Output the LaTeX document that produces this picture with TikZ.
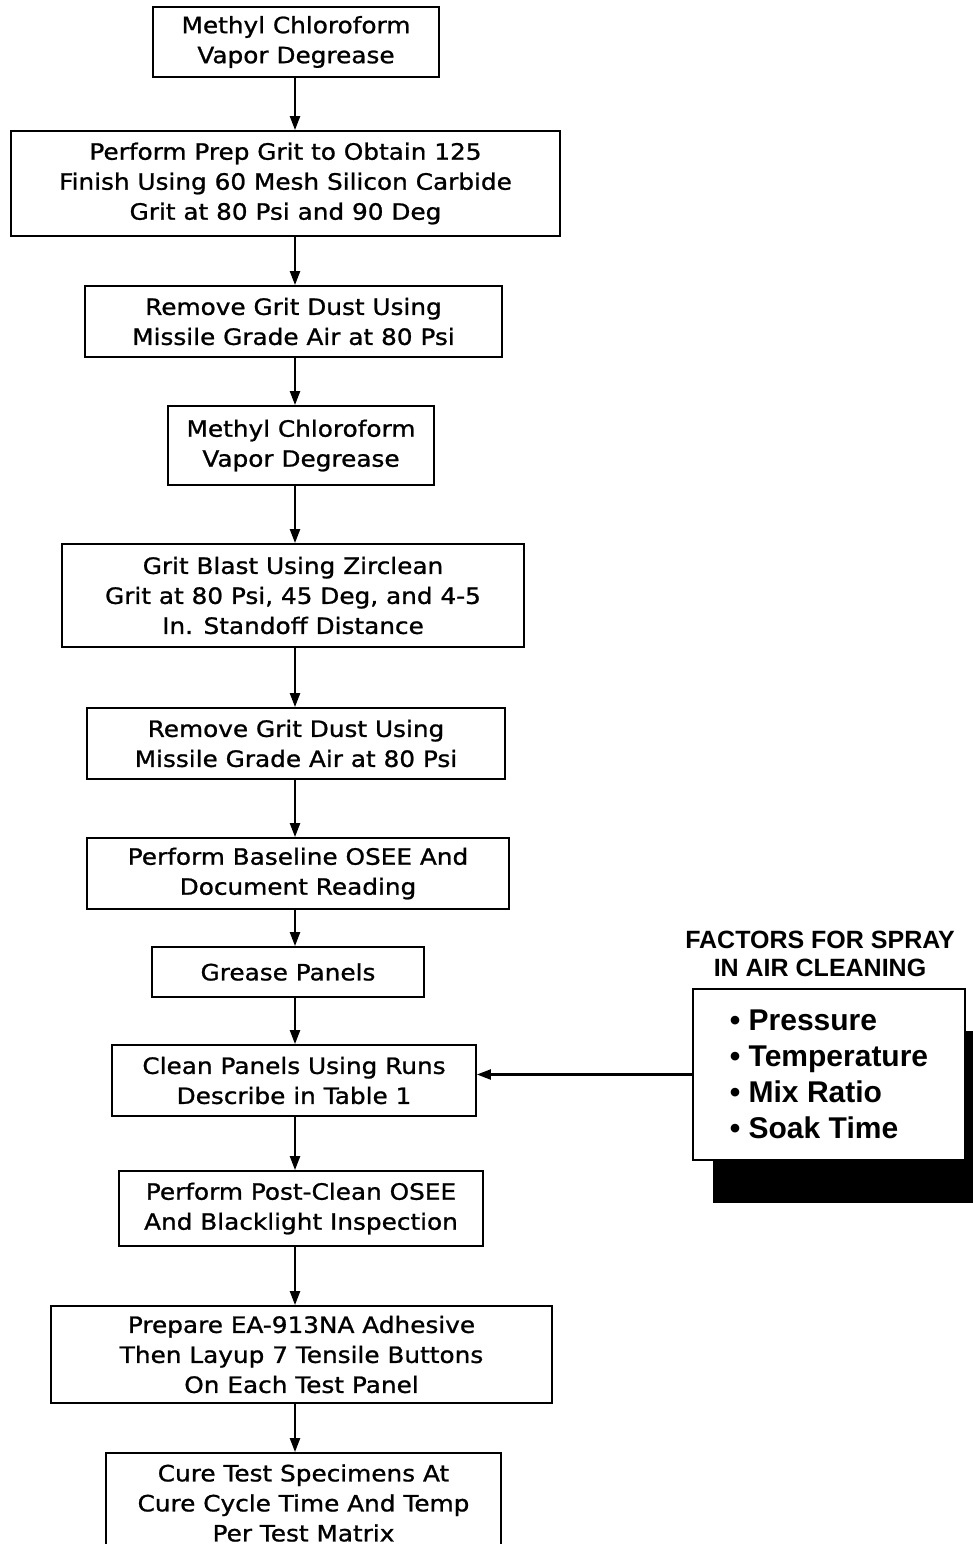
\documentclass[tikz,border=0pt]{standalone}
\usepackage{fontspec}
\setmainfont{Liberation Sans}
\newfontfamily\flowfont[FakeStretch=1.1,FakeBold=1]{DejaVu Sans}
\usetikzlibrary{arrows.meta}
\begin{document}
\begin{tikzpicture}[x=1pt,y=-1pt,
  flowbox/.style={draw=black,line width=1.8pt,rectangle,inner sep=0pt,align=center,
    font=\flowfont\fontsize{22.5}{30}\selectfont},
  flowarrow/.style={draw=black,line width=2.2pt,-{Triangle[length=14pt,width=10pt]}},
  factorbox/.style={draw=black,line width=1.8pt,fill=white,rectangle,inner sep=0pt,align=left,
    font=\fontsize{30}{36}\selectfont\bfseries},
  titletext/.style={align=center,font=\fontsize{25}{28}\selectfont\bfseries}]
\useasboundingbox (0,0) rectangle (973,1544);
\clip (0,0) rectangle (973,1544);
\coordinate (spine) at (295,0);
\node[flowbox,minimum width=286pt,minimum height=70pt] (b1) at (296,42) {Methyl Chloroform\\Vapor Degrease};
\node[flowbox,minimum width=549pt,minimum height=105pt] (b2) at (285.5,183.5) {Perform Prep Grit to Obtain 125\\Finish Using 60 Mesh Silicon Carbide\\Grit at 80 Psi and 90 Deg};
\node[flowbox,minimum width=417pt,minimum height=71pt] (b3) at (293.5,321.5) {Remove Grit Dust Using\\Missile Grade Air at 80 Psi};
\node[flowbox,minimum width=266pt,minimum height=79pt] (b4) at (301,445.5) {Methyl Chloroform\\Vapor Degrease};
\node[flowbox,minimum width=462pt,minimum height=103pt] (b5) at (293,595.5) {Grit Blast Using Zirclean\\Grit at 80 Psi, 45 Deg, and 4-5\\In. Standoff Distance};
\node[flowbox,minimum width=418pt,minimum height=71pt] (b6) at (296,743.5) {Remove Grit Dust Using\\Missile Grade Air at 80 Psi};
\node[flowbox,minimum width=422pt,minimum height=71pt] (b7) at (298,873.5) {Perform Baseline OSEE And\\Document Reading};
\node[flowbox,minimum width=272pt,minimum height=50pt] (b8) at (288,972) {Grease Panels};
\node[flowbox,minimum width=364pt,minimum height=71pt] (b9) at (294,1080.5) {Clean Panels Using Runs\\Describe in Table 1};
\node[flowbox,minimum width=364pt,minimum height=75pt] (b10) at (301,1208.5) {Perform Post-Clean OSEE\\And Blacklight Inspection};
\node[flowbox,minimum width=501pt,minimum height=97pt] (b11) at (301.5,1354.5) {Prepare EA-913NA Adhesive\\Then Layup 7 Tensile Buttons\\On Each Test Panel};
\node[flowbox,minimum width=395pt,minimum height=100pt] (b12) at (303.5,1503) {Cure Test Specimens At\\Cure Cycle Time And Temp\\Per Test Matrix};
\foreach \a/\b in {b1/b2,b2/b3,b3/b4,b4/b5,b5/b6,b6/b7,b7/b8,b8/b9,b9/b10,b10/b11,b11/b12}
  \draw[flowarrow] (\a.south -| spine) -- (\b.north -| spine);
% factors box with shadow
\fill[black] (713,1031) rectangle (985,1203);
\node[factorbox,minimum width=272pt,minimum height=171pt] (factors) at (829,1074.5) {\textbullet\ Pressure\\\textbullet\ Temperature\\\textbullet\ Mix Ratio\\\textbullet\ Soak Time};
\node[titletext] (ftitle) at (820,954) {FACTORS FOR SPRAY\\IN AIR CLEANING};
\draw[flowarrow] (factors.west) -- (factors.west -| b9.east);
\end{tikzpicture}
\end{document}
